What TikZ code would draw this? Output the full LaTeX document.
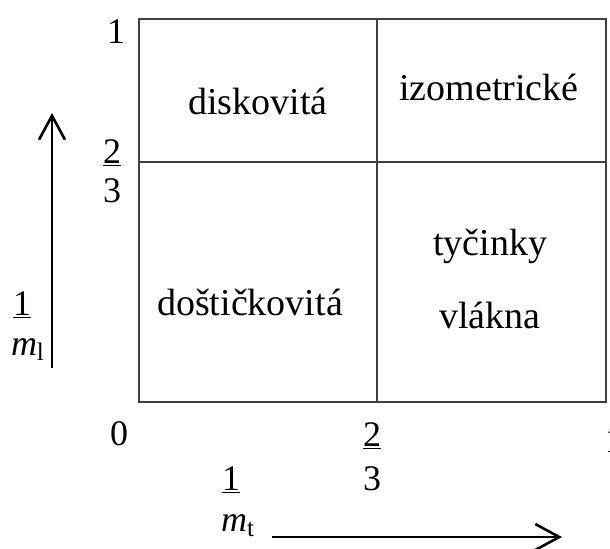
\documentclass[tikz,border=0pt]{standalone}
\usepackage{fontspec}
\setmainfont{Liberation Serif}
\usetikzlibrary{arrows.meta}

\begin{document}
\begin{tikzpicture}[x=0.5pt,y=-0.5pt,
  txt/.style={font=\fontsize{19}{23}\selectfont, inner sep=0pt, anchor=base},
  num/.style={font=\fontsize{18}{22}\selectfont, inner sep=0pt, anchor=base},
  cell/.style={line width=1pt, black!75},
  axis/.style={line width=1.3pt, -{Straight Barb[length=12pt,width=13pt,line width=1.3pt]}}]
\useasboundingbox (0,0) rectangle (610,548);
% Grid
\coordinate (nw) at (139,19);
\coordinate (se) at (606,402);
\coordinate (mt) at (377,19);
\coordinate (mb) at (377,402);
\coordinate (ml) at (139,162);
\coordinate (mr) at (606,162);
\draw[cell] (nw) rectangle (se);
\draw[cell] (mt) -- (mb);
\draw[cell] (ml) -- (mr);
% Regions
\node[txt] (disk) at (258,114) {diskovitá};
\node[txt] (izo) at (489,100) {izometrické};
\node[txt] (tyc) at (490,255) {tyčinky};
\node[txt] (vla) at (490,328) {vlákna};
\node[txt] (dos) at (250,315) {doštičkovitá};
% Ticks
\node[num] (ytop) at (116,43) {1};
\node[num] (ymidn) at (112,163) {\underline{2}};
\node[num] (ymidd) at (112,202) {3};
\node[num] (zero) at (119,445) {0};
\node[num] (xmidn) at (372,446) {\underline{2}};
\node[num] (xmidd) at (372,490) {3};
\node[num] (xtop) at (614,452) {1};
% Axis labels
\node[num] (ylabn) at (22,315) {\underline{1}};
\node[num] (ylabd) at (28,355) {\textit{m}\textsubscript{l}};
\node[num] (xlabn) at (231,490) {\underline{1}};
\node[num] (xlabd) at (238,531) {\textit{m}\textsubscript{t}};
% Arrows
\coordinate (ya0) at (52,368);
\coordinate (ya1) at (52,113);
\coordinate (xa0) at (272,537);
\coordinate (xa1) at (562,537);
\draw[axis] (ya0) -- (ya1);
\draw[axis] (xa0) -- (xa1);
\end{tikzpicture}
\end{document}
